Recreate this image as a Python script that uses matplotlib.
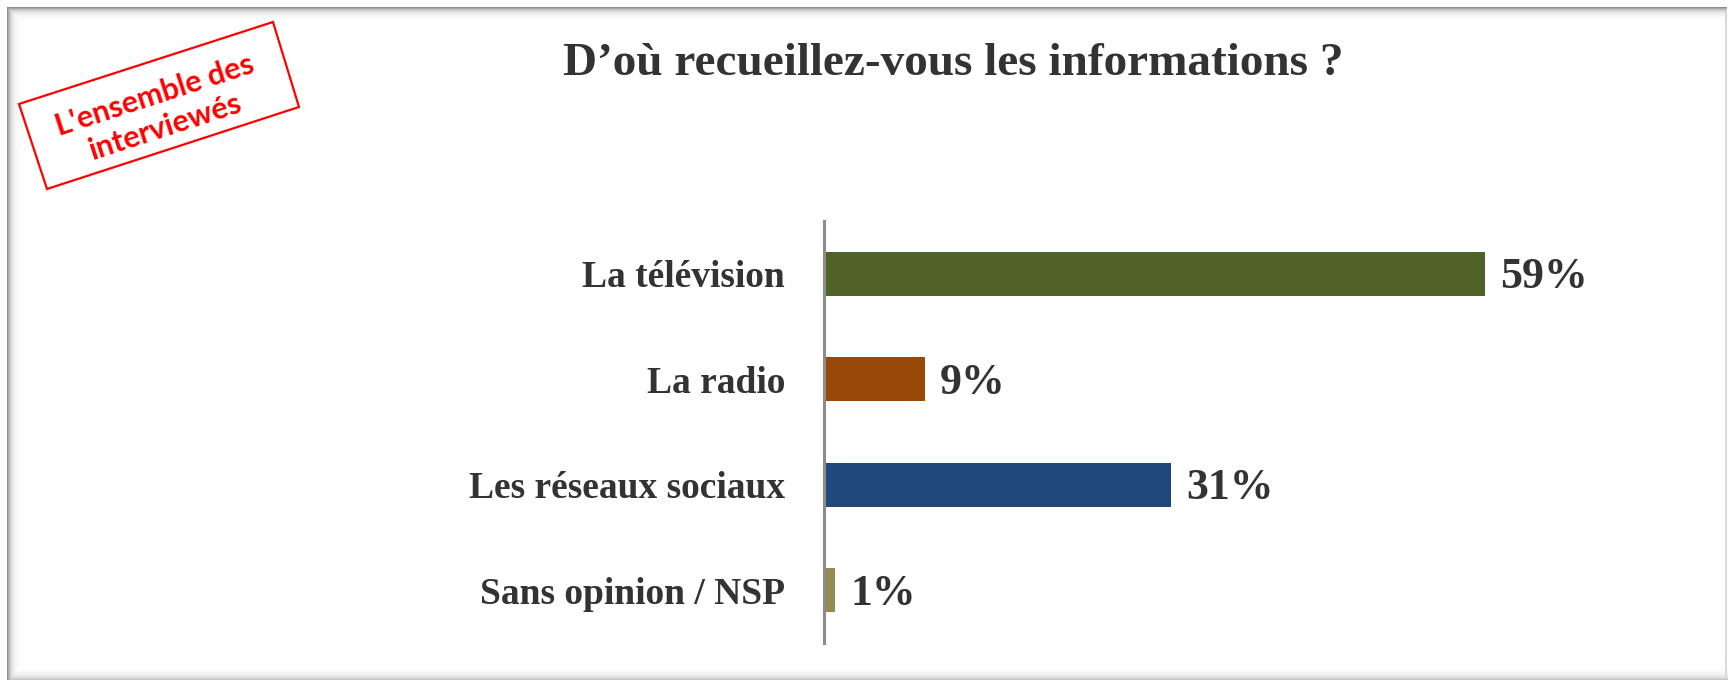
import numpy as np
import matplotlib
matplotlib.use("Agg")
import matplotlib.pyplot as plt
from matplotlib.patches import Polygon

# ---- data ----
categories = ["La télévision", "La radio", "Les réseaux sociaux", "Sans opinion / NSP"]
values = [59, 9, 31, 1]
value_labels = ["59%", "9%", "31%", "1%"]
bar_colors = ["#4F6228", "#984807", "#1F497D", "#948A54"]
title = "D’où recueillez-vous les informations ?"
stamp_text = "L'ensemble des\ninterviewés"

W, H = 1728, 680
fig = plt.figure(figsize=(W / 100, H / 100), dpi=100)
fig.patch.set_facecolor("white")

def fx(px):
    return px / W

def fy(py):
    return 1 - py / H

# ---- frame with soft inner shadow ----
img = np.zeros((H, W, 4))
yy, xx = np.mgrid[0:H, 0:W]
top = np.where((yy >= 7) & (xx >= 7) & (xx <= 1726), 0.45 * np.exp(-(yy - 7) / 3.5), 0)
left = np.where((xx >= 7) & (yy >= 7), 0.45 * np.exp(-(xx - 7) / 3.5), 0)
bottom = np.where((yy <= 679) & (xx >= 7), 0.22 * np.exp(-(679 - yy) / 4.0), 0)
right = np.where((xx >= 1725) & (xx <= 1726) & (yy >= 7), 0.15, 0)
dark = np.maximum.reduce([top, left, bottom, right])
img[..., 3] = np.clip(dark, 0, 1)
fig.figimage(img, 0, 0, origin="upper", zorder=0)

# ---- axes ----
ax_left, ax_right = 824, 1700
ax_top, ax_bottom = 221, 643
ax = fig.add_axes([fx(ax_left), fy(ax_bottom), fx(ax_right - ax_left), (ax_bottom - ax_top) / H])
ax.set_facecolor("none")
y = np.arange(len(categories))
ax.barh(y, values, height=0.415, color=bar_colors, zorder=2)
ax.set_xlim(0, (ax_right - ax_left) / 11.2)
ax.set_ylim(len(categories) - 0.5, -0.5)
for s in ["top", "right", "bottom"]:
    ax.spines[s].set_visible(False)
ax.spines["left"].set_color("#8C8C8C")
ax.spines["left"].set_linewidth(2.2)
ax.set_xticks([])
ax.set_yticks(y)
ax.set_yticklabels(categories, family="Liberation Serif", fontweight="bold",
                   fontsize=27, color="#333333")
ax.tick_params(axis="y", length=0, pad=28)

for yi, v, lab in zip(y, values, value_labels):
    ax.annotate(lab, (v, yi), xytext=(11, -2.5), textcoords="offset points",
                ha="left", va="center", family="Liberation Serif",
                fontweight="bold", fontsize=31.5, color="#333333")

# ---- title ----
fig.text(fx(953), fy(75), title, ha="center", va="baseline",
         family="Liberation Serif", fontweight="bold", fontsize=34, color="#333333")

# ---- stamp ----
corners = [(19, 104), (273, 22), (299, 107), (47, 189)]
poly = Polygon([(fx(a), fy(b)) for a, b in corners], closed=True, fill=False,
               edgecolor="#FF0000", linewidth=1.6, transform=fig.transFigure)
fig.add_artist(poly)
fig.text(fx(160), fy(111), stamp_text, ha="center", va="center", rotation=18,
         rotation_mode="anchor", multialignment="center", linespacing=1.25,
         family="Lato", fontweight="bold", fontsize=22, color="#FF0000")

fig.savefig("out.png", dpi=100, facecolor="white")
